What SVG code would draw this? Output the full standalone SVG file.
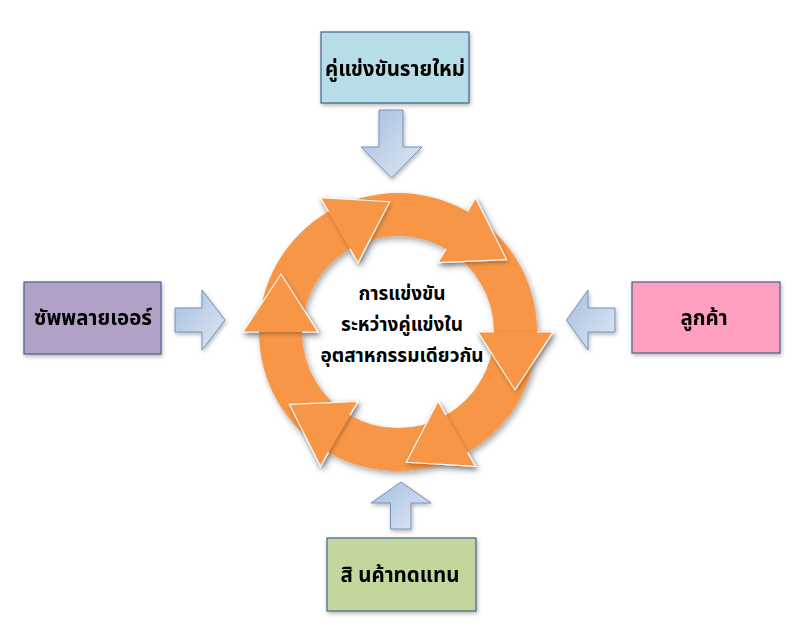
<svg xmlns="http://www.w3.org/2000/svg" width="800" height="640" viewBox="0 0 800 640">
<defs>
<style>
.box{stroke:#44628a;stroke-width:1.2}
.lbl{font-family:Tahoma,"Noto Sans Thai","Noto Sans","DejaVu Sans",sans-serif;font-weight:bold;fill:#000;text-anchor:middle}
.big{font-size:20.5px}
.mid{font-size:19px}
.body{fill:#f79646}
.head{fill:#f79646}
.hedge{fill:none;stroke:#ffffff;stroke-width:1.2;stroke-opacity:0.9;stroke-linejoin:miter}
.blk{fill:url(#bg);stroke:#7391ba;stroke-width:1}
</style>
<linearGradient id="bg" x1="0" y1="0" x2="1" y2="1">
<stop offset="0" stop-color="#a6bedf"/>
<stop offset="1" stop-color="#dfe8f4"/>
</linearGradient>
<filter id="sh" x="-20%" y="-20%" width="140%" height="140%">
<feGaussianBlur in="SourceAlpha" stdDeviation="3"/>
<feOffset dx="2" dy="3" result="b"/>
<feComponentTransfer><feFuncA type="linear" slope="0.35"/></feComponentTransfer>
<feMerge><feMergeNode/><feMergeNode in="SourceGraphic"/></feMerge>
</filter>
<filter id="sh2" x="-20%" y="-20%" width="140%" height="140%">
<feGaussianBlur in="SourceAlpha" stdDeviation="2"/>
<feOffset dx="1" dy="2" result="b"/>
<feComponentTransfer><feFuncA type="linear" slope="0.3"/></feComponentTransfer>
<feMerge><feMergeNode/><feMergeNode in="SourceGraphic"/></feMerge>
</filter>
</defs>
<rect width="800" height="640" fill="#ffffff"/>

<g id="cycle" filter="url(#sh)">
<g id="cycle-bodies" class="body">
<path d="M259,332 A139,139 0 0 1 328.5,211.62 L350,248.86 A96,96 0 0 0 302,332 Z"/>
<path d="M328.5,211.62 A139,139 0 0 1 467.5,211.62 L446,248.86 A96,96 0 0 0 350,248.86 Z"/>
<path d="M467.5,211.62 A139,139 0 0 1 537,332 L494,332 A96,96 0 0 0 446,248.86 Z"/>
<path d="M537,332 A139,139 0 0 1 467.5,452.38 L446,415.14 A96,96 0 0 0 494,332 Z"/>
<path d="M467.5,452.38 A139,139 0 0 1 328.5,452.38 L350,415.14 A96,96 0 0 0 446,415.14 Z"/>
<path d="M328.5,452.38 A139,139 0 0 1 259,332 L302,332 A96,96 0 0 0 350,415.14 Z"/>
</g>
<g id="cycle-heads" filter="url(#sh2)">
<g class="head">
<polygon points="320.5,197.77 389.73,201.68 358,262.72"/>
<polygon points="475.5,197.77 506.73,259.68 438,262.72"/>
<polygon points="553,332 515,390 478,332"/>
<polygon points="475.5,466.23 406.27,462.32 438,401.28"/>
<polygon points="320.5,466.23 289.27,404.32 358,401.28"/>
<polygon points="243,332 281,274 318,332"/>
</g>
<g class="hedge">
<polyline points="350,248.86 358,262.72 389.73,201.68 320.5,197.77 328.5,211.62"/>
<polyline points="446,248.86 438,262.72 506.73,259.68 475.5,197.77 467.5,211.62"/>
<polyline points="494,332 478,332 515,390 553,332 537,332"/>
<polyline points="446,415.14 438,401.28 406.27,462.32 475.5,466.23 467.5,452.38"/>
<polyline points="350,415.14 358,401.28 289.27,404.32 320.5,466.23 328.5,452.38"/>
<polyline points="302,332 318,332 281,274 243,332 259,332"/>
</g>
</g>
</g>
<g id="center-label">
<text class="lbl mid" x="402" y="300">การแข่งขัน</text>
<text class="lbl mid" x="402" y="331">ระหว่างคู่แข่งใน</text>
<text class="lbl mid" x="402" y="362">อุตสาหกรรมเดียวกัน</text>
</g>

<g id="new-entrants" filter="url(#sh2)">
<rect class="box" x="321" y="32" width="148" height="71" fill="#b7dde8"/>
<text class="lbl big" x="395" y="76">คู่แข่งขันรายใหม่</text>
</g>
<g id="suppliers" filter="url(#sh2)">
<rect class="box" x="24" y="282" width="137" height="72" fill="#b2a1c7"/>
<text class="lbl big" x="93" y="325">ซัพพลายเออร์</text>
</g>
<g id="customers" filter="url(#sh2)">
<rect class="box" x="632" y="282" width="148" height="71" fill="#ff9fc0"/>
<text class="lbl big" x="704" y="325">ลูกค้า</text>
</g>
<g id="substitutes" filter="url(#sh2)">
<rect class="box" x="327" y="538" width="149" height="73" fill="#c3d69b"/>
<text class="lbl big" x="400" y="582">สิ นค้าทดแทน</text>
</g>

<g id="connectors" filter="url(#sh2)">
<path class="blk" d="M379,110 H403 V147 H422 L391.5,178 L361,147 H379 Z"/>
<path class="blk" d="M401,482 L431,503 H411 V529 H390.5 V503 H371 Z"/>
<path class="blk" d="M175,308 H202 V290 L225,320 L202,350 V332 H175 Z"/>
<path class="blk" d="M566.5,320 L588,290 V308 H615 V332 H588 V350 Z"/>
</g>
</svg>
